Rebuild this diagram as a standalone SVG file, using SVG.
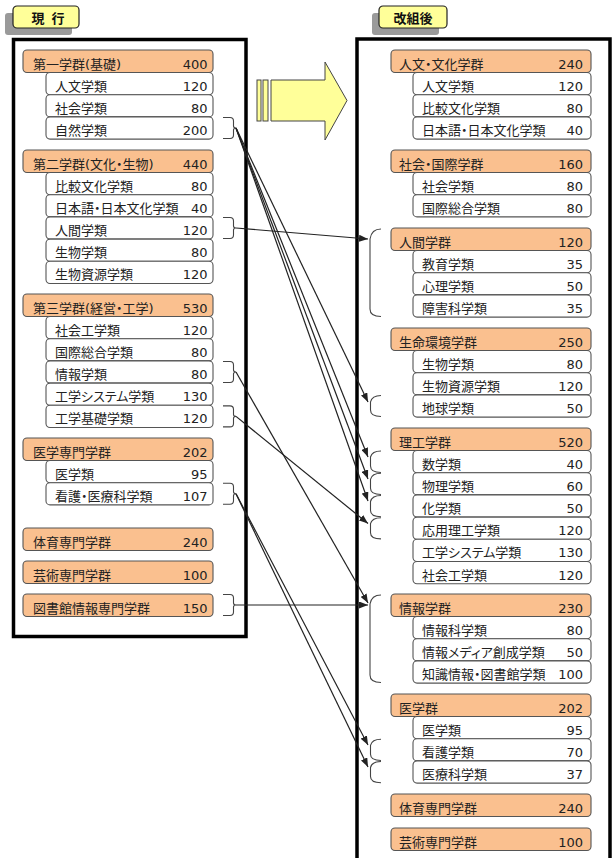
<svg xmlns="http://www.w3.org/2000/svg" width="613" height="858" viewBox="0 0 613 858">
<style>
.t{font-family:"DejaVu Sans","Noto Sans CJK JP",sans-serif;font-size:13px;fill:#222;font-feature-settings:"palt"}
.n{text-anchor:end}
.hd{fill:#FAC08F;stroke:#555;stroke-width:1.1}
.sb{fill:#fff;stroke:#555;stroke-width:1.1}
.panel{fill:none;stroke:#000;stroke-width:3.5}
.lbl{fill:#FFFF99;stroke:#222;stroke-width:1.2}
.lsh{fill:#9a9a9a}
.lt{font-family:"Noto Sans CJK JP",sans-serif;font-size:13px;font-weight:bold;fill:#111;text-anchor:middle}
.br{fill:none;stroke:#444;stroke-width:1.1}
.cn{fill:none;stroke:#222;stroke-width:1.2;marker-end:url(#ah)}
</style>
<defs>
<marker id="ah" markerUnits="userSpaceOnUse" markerWidth="9" markerHeight="7" refX="9" refY="3.5" orient="auto">
<path d="M0,0 L9,3.5 L0,7 z" fill="#222"/>
</marker>
</defs>
<rect width="613" height="858" fill="#fff"/>

<!-- labels -->
<g id="label-current">
<rect class="lsh" x="5" y="13" width="67" height="22" rx="3"/>
<rect class="lbl" x="13" y="6" width="66" height="22" rx="4"/>
<text class="lt" x="49" y="23" style="letter-spacing:2px">現 行</text>
</g>
<g id="label-new">
<rect class="lsh" x="372" y="13" width="67" height="22" rx="3"/>
<rect class="lbl" x="379" y="6" width="68" height="22" rx="4"/>
<text class="lt" x="413" y="23">改組後</text>
</g>

<!-- panels -->
<g id="panel-current"><rect class="panel" x="13.5" y="39.5" width="232.5" height="597"/></g>
<g id="panel-new"><rect class="panel" x="357" y="39" width="253" height="830"/></g>

<!-- big arrow -->
<g id="big-arrow" fill="#FFFF99" stroke="#444" stroke-width="1">
<rect x="257" y="80" width="4" height="41"/>
<rect x="263" y="80" width="5" height="41"/>
<path d="M271,80 L325,80 L325,62 L347,100.5 L325,140 L325,121 L271,121 z"/>
</g>

<!-- left nodes -->
<g id="c-g1"><rect class="hd" x="23" y="50" width="190" height="22.5" rx="4"/><text class="t" x="33" y="68.5">第一学群(基礎)</text><text class="t n" x="207.5" y="68.5">400</text></g>
<g id="c-g1-1"><rect class="sb" x="46" y="72.5" width="167" height="22.2" rx="4"/><text class="t" x="55" y="90.5">人文学類</text><text class="t n" x="207.5" y="90.5">120</text></g>
<g id="c-g1-2"><rect class="sb" x="46" y="94.7" width="167" height="22.2" rx="4"/><text class="t" x="55" y="112.7">社会学類</text><text class="t n" x="207.5" y="112.7">80</text></g>
<g id="c-g1-3"><rect class="sb" x="46" y="116.9" width="167" height="22.2" rx="4"/><text class="t" x="55" y="134.9">自然学類</text><text class="t n" x="207.5" y="134.9">200</text></g>

<g id="c-g2"><rect class="hd" x="23" y="150" width="190" height="22.5" rx="4"/><text class="t" x="33" y="168.5">第二学群(文化・生物)</text><text class="t n" x="207.5" y="168.5">440</text></g>
<g id="c-g2-1"><rect class="sb" x="46" y="172.5" width="167" height="22.2" rx="4"/><text class="t" x="55" y="190.5">比較文化学類</text><text class="t n" x="207.5" y="190.5">80</text></g>
<g id="c-g2-2"><rect class="sb" x="46" y="194.7" width="167" height="22.2" rx="4"/><text class="t" x="55" y="212.7">日本語・日本文化学類</text><text class="t n" x="207.5" y="212.7">40</text></g>
<g id="c-g2-3"><rect class="sb" x="46" y="216.9" width="167" height="22.2" rx="4"/><text class="t" x="55" y="234.9">人間学類</text><text class="t n" x="207.5" y="234.9">120</text></g>
<g id="c-g2-4"><rect class="sb" x="46" y="239.1" width="167" height="22.2" rx="4"/><text class="t" x="55" y="257.1">生物学類</text><text class="t n" x="207.5" y="257.1">80</text></g>
<g id="c-g2-5"><rect class="sb" x="46" y="261.3" width="167" height="22.2" rx="4"/><text class="t" x="55" y="279.3">生物資源学類</text><text class="t n" x="207.5" y="279.3">120</text></g>

<g id="c-g3"><rect class="hd" x="23" y="294" width="190" height="22.5" rx="4"/><text class="t" x="33" y="312.5">第三学群(経営・工学)</text><text class="t n" x="207.5" y="312.5">530</text></g>
<g id="c-g3-1"><rect class="sb" x="46" y="316.5" width="167" height="22.2" rx="4"/><text class="t" x="55" y="334.5">社会工学類</text><text class="t n" x="207.5" y="334.5">120</text></g>
<g id="c-g3-2"><rect class="sb" x="46" y="338.7" width="167" height="22.2" rx="4"/><text class="t" x="55" y="356.7">国際総合学類</text><text class="t n" x="207.5" y="356.7">80</text></g>
<g id="c-g3-3"><rect class="sb" x="46" y="360.9" width="167" height="22.2" rx="4"/><text class="t" x="55" y="378.9">情報学類</text><text class="t n" x="207.5" y="378.9">80</text></g>
<g id="c-g3-4"><rect class="sb" x="46" y="383.1" width="167" height="22.2" rx="4"/><text class="t" x="55" y="401.1">工学システム学類</text><text class="t n" x="207.5" y="401.1">130</text></g>
<g id="c-g3-5"><rect class="sb" x="46" y="405.3" width="167" height="22.2" rx="4"/><text class="t" x="55" y="423.3">工学基礎学類</text><text class="t n" x="207.5" y="423.3">120</text></g>

<g id="c-g4"><rect class="hd" x="23" y="438" width="190" height="22.5" rx="4"/><text class="t" x="33" y="456.5">医学専門学群</text><text class="t n" x="207.5" y="456.5">202</text></g>
<g id="c-g4-1"><rect class="sb" x="46" y="460.5" width="167" height="22.2" rx="4"/><text class="t" x="55" y="478.5">医学類</text><text class="t n" x="207.5" y="478.5">95</text></g>
<g id="c-g4-2"><rect class="sb" x="46" y="482.7" width="167" height="22.2" rx="4"/><text class="t" x="55" y="500.7">看護・医療科学類</text><text class="t n" x="207.5" y="500.7">107</text></g>

<g id="c-g5"><rect class="hd" x="23" y="528" width="190" height="22.5" rx="4"/><text class="t" x="33" y="546.5">体育専門学群</text><text class="t n" x="207.5" y="546.5">240</text></g>
<g id="c-g6"><rect class="hd" x="23" y="561" width="190" height="22.5" rx="4"/><text class="t" x="33" y="579.5">芸術専門学群</text><text class="t n" x="207.5" y="579.5">100</text></g>
<g id="c-g7"><rect class="hd" x="23" y="594" width="190" height="22.5" rx="4"/><text class="t" x="33" y="612.5">図書館情報専門学群</text><text class="t n" x="207.5" y="612.5">150</text></g>

<!-- right nodes -->
<g id="n-g1"><rect class="hd" x="391" y="50" width="200" height="22.5" rx="4"/><text class="t" x="399" y="68.5">人文・文化学群</text><text class="t n" x="583" y="68.5">240</text></g>
<g id="n-g1-1"><rect class="sb" x="413" y="72.5" width="178" height="22.2" rx="4"/><text class="t" x="422" y="90.5">人文学類</text><text class="t n" x="583" y="90.5">120</text></g>
<g id="n-g1-2"><rect class="sb" x="413" y="94.7" width="178" height="22.2" rx="4"/><text class="t" x="422" y="112.7">比較文化学類</text><text class="t n" x="583" y="112.7">80</text></g>
<g id="n-g1-3"><rect class="sb" x="413" y="116.9" width="178" height="22.2" rx="4"/><text class="t" x="422" y="134.9">日本語・日本文化学類</text><text class="t n" x="583" y="134.9">40</text></g>

<g id="n-g2"><rect class="hd" x="391" y="150" width="200" height="22.5" rx="4"/><text class="t" x="399" y="168.5">社会・国際学群</text><text class="t n" x="583" y="168.5">160</text></g>
<g id="n-g2-1"><rect class="sb" x="413" y="172.5" width="178" height="22.2" rx="4"/><text class="t" x="422" y="190.5">社会学類</text><text class="t n" x="583" y="190.5">80</text></g>
<g id="n-g2-2"><rect class="sb" x="413" y="194.7" width="178" height="22.2" rx="4"/><text class="t" x="422" y="212.7">国際総合学類</text><text class="t n" x="583" y="212.7">80</text></g>

<g id="n-g3"><rect class="hd" x="391" y="228" width="200" height="22.5" rx="4"/><text class="t" x="399" y="246.5">人間学群</text><text class="t n" x="583" y="246.5">120</text></g>
<g id="n-g3-1"><rect class="sb" x="413" y="250.5" width="178" height="22.2" rx="4"/><text class="t" x="422" y="268.5">教育学類</text><text class="t n" x="583" y="268.5">35</text></g>
<g id="n-g3-2"><rect class="sb" x="413" y="272.7" width="178" height="22.2" rx="4"/><text class="t" x="422" y="290.7">心理学類</text><text class="t n" x="583" y="290.7">50</text></g>
<g id="n-g3-3"><rect class="sb" x="413" y="294.9" width="178" height="22.2" rx="4"/><text class="t" x="422" y="312.9">障害科学類</text><text class="t n" x="583" y="312.9">35</text></g>

<g id="n-g4"><rect class="hd" x="391" y="328" width="200" height="22.5" rx="4"/><text class="t" x="399" y="346.5">生命環境学群</text><text class="t n" x="583" y="346.5">250</text></g>
<g id="n-g4-1"><rect class="sb" x="413" y="350.5" width="178" height="22.2" rx="4"/><text class="t" x="422" y="368.5">生物学類</text><text class="t n" x="583" y="368.5">80</text></g>
<g id="n-g4-2"><rect class="sb" x="413" y="372.7" width="178" height="22.2" rx="4"/><text class="t" x="422" y="390.7">生物資源学類</text><text class="t n" x="583" y="390.7">120</text></g>
<g id="n-g4-3"><rect class="sb" x="413" y="394.9" width="178" height="22.2" rx="4"/><text class="t" x="422" y="412.9">地球学類</text><text class="t n" x="583" y="412.9">50</text></g>

<g id="n-g5"><rect class="hd" x="391" y="428" width="200" height="22.5" rx="4"/><text class="t" x="399" y="446.5">理工学群</text><text class="t n" x="583" y="446.5">520</text></g>
<g id="n-g5-1"><rect class="sb" x="413" y="450.5" width="178" height="22.2" rx="4"/><text class="t" x="422" y="468.5">数学類</text><text class="t n" x="583" y="468.5">40</text></g>
<g id="n-g5-2"><rect class="sb" x="413" y="472.7" width="178" height="22.2" rx="4"/><text class="t" x="422" y="490.7">物理学類</text><text class="t n" x="583" y="490.7">60</text></g>
<g id="n-g5-3"><rect class="sb" x="413" y="494.9" width="178" height="22.2" rx="4"/><text class="t" x="422" y="512.9">化学類</text><text class="t n" x="583" y="512.9">50</text></g>
<g id="n-g5-4"><rect class="sb" x="413" y="517.1" width="178" height="22.2" rx="4"/><text class="t" x="422" y="535.1">応用理工学類</text><text class="t n" x="583" y="535.1">120</text></g>
<g id="n-g5-5"><rect class="sb" x="413" y="539.3" width="178" height="22.2" rx="4"/><text class="t" x="422" y="557.3">工学システム学類</text><text class="t n" x="583" y="557.3">130</text></g>
<g id="n-g5-6"><rect class="sb" x="413" y="561.5" width="178" height="22.2" rx="4"/><text class="t" x="422" y="579.5">社会工学類</text><text class="t n" x="583" y="579.5">120</text></g>

<g id="n-g6"><rect class="hd" x="391" y="594" width="200" height="22.5" rx="4"/><text class="t" x="399" y="612.5">情報学群</text><text class="t n" x="583" y="612.5">230</text></g>
<g id="n-g6-1"><rect class="sb" x="413" y="616.5" width="178" height="22.2" rx="4"/><text class="t" x="422" y="634.5">情報科学類</text><text class="t n" x="583" y="634.5">80</text></g>
<g id="n-g6-2"><rect class="sb" x="413" y="638.7" width="178" height="22.2" rx="4"/><text class="t" x="422" y="656.7">情報メディア創成学類</text><text class="t n" x="583" y="656.7">50</text></g>
<g id="n-g6-3"><rect class="sb" x="413" y="660.9" width="178" height="22.2" rx="4"/><text class="t" x="422" y="678.9">知識情報・図書館学類</text><text class="t n" x="583" y="678.9">100</text></g>

<g id="n-g7"><rect class="hd" x="391" y="694" width="200" height="22.5" rx="4"/><text class="t" x="399" y="712.5">医学群</text><text class="t n" x="583" y="712.5">202</text></g>
<g id="n-g7-1"><rect class="sb" x="413" y="716.5" width="178" height="22.2" rx="4"/><text class="t" x="422" y="734.5">医学類</text><text class="t n" x="583" y="734.5">95</text></g>
<g id="n-g7-2"><rect class="sb" x="413" y="738.7" width="178" height="22.2" rx="4"/><text class="t" x="422" y="756.7">看護学類</text><text class="t n" x="583" y="756.7">70</text></g>
<g id="n-g7-3"><rect class="sb" x="413" y="760.9" width="178" height="22.2" rx="4"/><text class="t" x="422" y="778.9">医療科学類</text><text class="t n" x="583" y="778.9">37</text></g>

<g id="n-g8"><rect class="hd" x="391" y="794" width="200" height="22.5" rx="4"/><text class="t" x="399" y="812.5">体育専門学群</text><text class="t n" x="583" y="812.5">240</text></g>
<g id="n-g9"><rect class="hd" x="391" y="828" width="200" height="22.5" rx="4"/><text class="t" x="399" y="846.5">芸術専門学群</text><text class="t n" x="583" y="846.5">100</text></g>

<!-- connectors -->
<g id="connectors">
<g id="brackets-left" class="br">
<path d="M223,117.5 L230,117.5 Q233.5,117.5 233.5,121 L233.5,126 Q233.5,128 236,128 Q233.5,128 233.5,130 L233.5,135 Q233.5,138.5 230,138.5 L223,138.5"/>
<path d="M223,217.5 L230,217.5 Q233.5,217.5 233.5,221 L233.5,226 Q233.5,228 236,228 Q233.5,228 233.5,230 L233.5,235 Q233.5,238.5 230,238.5 L223,238.5"/>
<path d="M223,361.5 L230,361.5 Q233.5,361.5 233.5,365 L233.5,370 Q233.5,372 236,372 Q233.5,372 233.5,374 L233.5,379 Q233.5,382.5 230,382.5 L223,382.5"/>
<path d="M223,405.9 L230,405.9 Q233.5,405.9 233.5,409.4 L233.5,414.4 Q233.5,416.4 236,416.4 Q233.5,416.4 233.5,418.4 L233.5,423.4 Q233.5,426.9 230,426.9 L223,426.9"/>
<path d="M223,483.3 L230,483.3 Q233.5,483.3 233.5,486.8 L233.5,491.8 Q233.5,493.8 236,493.8 Q233.5,493.8 233.5,495.8 L233.5,500.8 Q233.5,504.3 230,504.3 L223,504.3"/>
<path d="M223,594.5 L230,594.5 Q233.5,594.5 233.5,598 L233.5,603 Q233.5,605 236,605 Q233.5,605 233.5,607 L233.5,612 Q233.5,615.5 230,615.5 L223,615.5"/>
</g>
<g id="brackets-right" class="br">
<path d="M381,229 Q371.5,229 370,239 L370,309 Q370,316.5 381,316.5"/>
<path d="M381,395.5 Q372,395.5 370.5,402 L370.5,410 Q370.5,416.5 381,416.5"/>
<path d="M381,451 Q372,451 370.5,457 L370.5,466 Q370.5,472.5 381,472.5"/>
<path d="M381,473.3 Q372,473.3 370.5,479.3 L370.5,488.3 Q370.5,494.5 381,494.5"/>
<path d="M381,495.5 Q372,495.5 370.5,501.5 L370.5,510.5 Q370.5,516.7 381,516.7"/>
<path d="M381,517.7 Q372,517.7 370.5,523.7 L370.5,532.7 Q370.5,538.9 381,538.9"/>
<path d="M381,595 Q371.5,595 370,604 L370,675 Q370,682.5 381,682.5"/>
<path d="M381,739.3 Q372,739.3 370.5,745.3 L370.5,754.3 Q370.5,760.5 381,760.5"/>
<path d="M381,761.5 Q372,761.5 370.5,767.5 L370.5,776.5 Q370.5,782.7 381,782.7"/>
</g>
<path class="cn" d="M236,128 L368,402"/>
<path class="cn" d="M236,128 L368,457"/>
<path class="cn" d="M236,128 L368,479"/>
<path class="cn" d="M236,128 L368,501"/>
<path class="cn" d="M236,228 L368,239"/>
<path class="cn" d="M236,372 L368,603"/>
<path class="cn" d="M236,416.4 L368,523.5"/>
<path class="cn" d="M236,493.8 L368,745"/>
<path class="cn" d="M236,493.8 L368,767"/>
<path class="cn" d="M236,605 L368,605"/>
</g>
</svg>
